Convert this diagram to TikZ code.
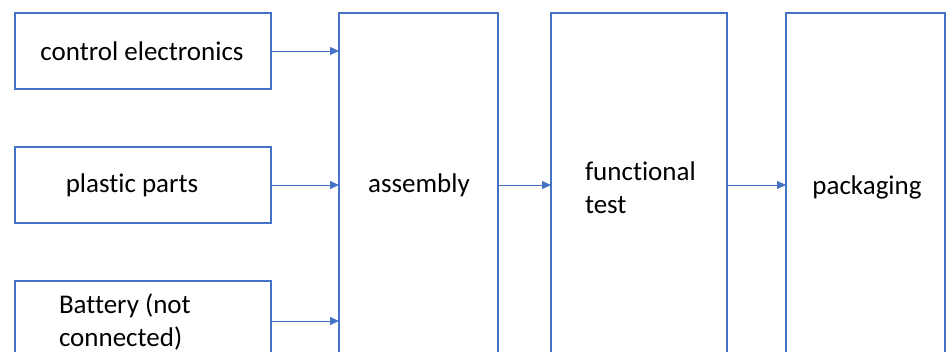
\documentclass[tikz,border=0pt]{standalone}
\usepackage{fontspec}
\setmainfont[Ligatures=CommonOff]{Carlito}
\usetikzlibrary{arrows.meta}
\definecolor{msblue}{HTML}{4472C4}
\tikzset{
  box/.style={draw=msblue, line width=1.4pt, rectangle, inner sep=0pt, outer sep=0pt},
  conn/.style={draw=msblue, line width=0.9pt, -{Triangle[length=9pt,width=8pt]}},
  lbl/.style={inner sep=0pt, outer sep=0pt, font=\fontsize{27pt}{33pt}\selectfont, align=left}
}
\begin{document}
\begin{tikzpicture}[x=1pt,y=-1pt]
\useasboundingbox (0,0) rectangle (948,351);
\clip (0,0) rectangle (948,351);
% boxes
\node[box, minimum width=256pt, minimum height=76pt] (ce) at (143,51) {};
\node[box, minimum width=256pt, minimum height=76pt] (pp) at (143,185) {};
\node[box, minimum width=256pt, minimum height=76pt] (bt) at (143,319) {};
\node[box, minimum width=159pt, minimum height=344pt] (as) at (418.5,185) {};
\node[box, minimum width=176pt, minimum height=344pt] (ft) at (639,185) {};
\node[box, minimum width=159pt, minimum height=344pt] (pk) at (865.5,185) {};
% labels
\node[lbl] (tce) at (142,51) {control electronics};
\node[lbl] (tpp) at (132,185) {plastic parts};
\node[lbl, anchor=base west] (tbt) at (59,346) {Battery (not\\connected)};
\node[lbl] (tas) at (419,185) {assembly};
\node[lbl, anchor=base west] (tft) at (585,213) {functional\\test};
\node[lbl] (tpk) at (867,187) {packaging};
% connectors
\coordinate (bta) at ([yshift=-2pt]bt.east);
\draw[conn] (ce.east) -- (as.west |- ce.east);
\draw[conn] (pp.east) -- (as.west |- pp.east);
\draw[conn] (bta) -- (as.west |- bta);
\draw[conn] (as.east) -- (ft.west);
\draw[conn] (ft.east) -- (pk.west);
\end{tikzpicture}
\end{document}
